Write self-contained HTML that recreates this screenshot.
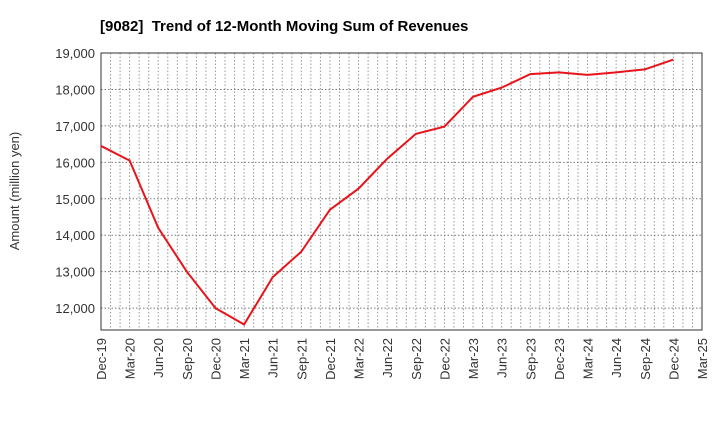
<!DOCTYPE html>
<html><head><meta charset="utf-8"><style>
body{margin:0;background:#fff;font-family:"Liberation Sans",sans-serif}
</style></head><body>
<svg width="720" height="440" xmlns="http://www.w3.org/2000/svg" id="chart">
<text x="100" y="31" text-anchor="start" xml:space="preserve" style="white-space:pre" font-size="15" font-weight="bold">[9082]  Trend of 12-Month Moving Sum of Revenues</text>
<text transform="translate(19,191) rotate(-90)" text-anchor="middle" font-size="13" fill="#333">Amount (million yen)</text>
<g id="grid"></g><g id="axes"></g><g id="series"></g>
</svg>
<script>
const categories=["Dec-19","Mar-20","Jun-20","Sep-20","Dec-20","Mar-21","Jun-21","Sep-21","Dec-21","Mar-22","Jun-22","Sep-22","Dec-22","Mar-23","Jun-23","Sep-23","Dec-23","Mar-24","Jun-24","Sep-24","Dec-24","Mar-25"];
const revenues=[16450,16050,14200,13000,12000,11550,12850,13550,14700,15280,16100,16780,16980,17800,18050,18420,18470,18400,18470,18550,18820];
const yTicks=[12000,13000,14000,15000,16000,17000,18000,19000];
const L=101,R=702,T=53,B=330,yMin=11400,yMax=19000;
const NS="http://www.w3.org/2000/svg";
const x=i=>L+(R-L)*i/(categories.length-1);
const y=v=>B-(B-T)*(v-yMin)/(yMax-yMin);
function mk(t,a,p){const e=document.createElementNS(NS,t);for(const k in a)e.setAttribute(k,a[k]);p.appendChild(e);return e;}
const grid=document.getElementById('grid'),axes=document.getElementById('axes'),series=document.getElementById('series');
const months=(categories.length-1)*3;
for(let m=1;m<months;m++){const xx=L+(R-L)*m/months;
const g=mk('line',{x1:xx,x2:xx,y1:T,y2:B,stroke:'#999','stroke-dasharray':'1.5,2','stroke-width':1},grid);

}
yTicks.forEach(v=>{const yy=y(v);
const g=mk('line',{x1:L,x2:R,y1:yy,y2:yy,stroke:'#777','stroke-dasharray':'1.5,2','stroke-width':1},grid);


const t=mk('text',{x:L-6,y:yy+5,'text-anchor':'end','font-size':13,fill:'#333'},axes);t.textContent=v.toLocaleString('en-US');

});
categories.forEach((c,i)=>{const t=mk('text',{transform:`translate(${x(i)+5},${B+8}) rotate(-90)`,'text-anchor':'end','font-size':13,fill:'#333'},axes);t.textContent=c;

});
const fr=mk('rect',{x:L,y:T,width:R-L,height:B-T,fill:'none',stroke:'#333','stroke-width':1},axes);


const pl=mk('polyline',{points:revenues.map((v,i)=>x(i)+','+y(v)).join(' '),fill:'none',stroke:'#e8141b','stroke-width':2},series);


</script>
</body></html>
